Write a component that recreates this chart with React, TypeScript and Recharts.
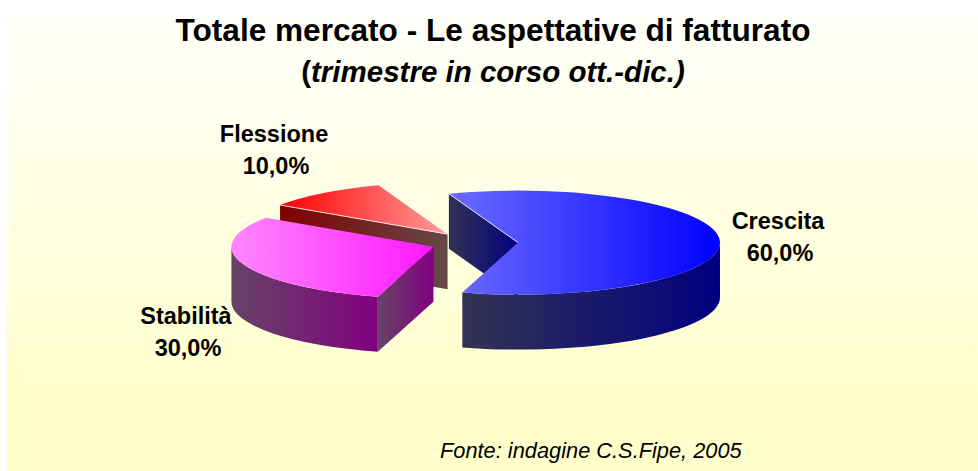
import { PieChart, Pie } from 'recharts'

// slices in drawing order, back to front
const categories = ['Flessione', 'Crescita', 'Stabilità']
const shares = [10, 60, 30]
const data = categories.map((name, i) => ({ name, value: shares[i] }))

// [left, right] colours of each gradient, one row per slice
const topColors = [['#ff0000', '#ff9c9c'], ['#6c6cff', '#0000ff'], ['#ff88ff', '#ff18ff']]
const wallColors = [['#800000', '#664848'], ['#333355', '#000080'], ['#664466', '#800080']]

const RX = 202
const RY = 52
const DEPTH = 55
const EXPLODE = 43.6
const FONT = '"Liberation Sans", Arial, sans-serif'

// label centre per slice
const labelSpots = [
  { x: 274, y: 142 },
  { x: 778, y: 229 },
  { x: 186, y: 324 },
]

const rad = (a: number) => (a * Math.PI) / 180

function Slice3D(props: any) {
  const { cx, cy, startAngle, endAngle, midAngle, index } = props
  const ox = cx + EXPLODE * Math.cos(rad(midAngle))
  const oy = cy - EXPLODE * Math.sin(rad(midAngle)) * (RY / RX)
  const pt = (a: number, drop = 0) =>
    `${ox + RX * Math.cos(rad(a))} ${oy - RY * Math.sin(rad(a)) + drop}`
  const large = Math.abs(startAngle - endAngle) > 180 ? 1 : 0

  const top = `M${ox} ${oy} L${pt(startAngle)} A${RX} ${RY} 0 ${large} 1 ${pt(endAngle)} Z`

  // outer wall only where the rim faces the viewer
  const walls: string[] = []
  for (const k of [-1, 0, 1]) {
    const hi = Math.min(startAngle, 360 * k)
    const lo = Math.max(endAngle, 360 * k - 180)
    if (hi > lo) {
      walls.push(
        `M${pt(hi)} A${RX} ${RY} 0 0 1 ${pt(lo)} L${pt(lo, DEPTH)} A${RX} ${RY} 0 0 0 ${pt(hi, DEPTH)} Z`,
      )
    }
  }

  // the cut at the start angle is the only flat face that shows here
  const showCut = Math.cos(rad(startAngle)) < 0
  const cut = `M${ox} ${oy} L${pt(startAngle)} L${pt(startAngle, DEPTH)} L${ox} ${oy + DEPTH} Z`
  const backEdge = Math.sin(rad(startAngle)) > 0

  return (
    <g>
      <defs>
        <linearGradient id={`top${index}`} x1="0" x2="1" y1="0" y2="0">
          <stop offset="0" stopColor={topColors[index][0]} />
          <stop offset="1" stopColor={topColors[index][1]} />
        </linearGradient>
        <linearGradient id={`wall${index}`} x1="0" x2="1" y1="0" y2="0">
          <stop offset="0" stopColor={wallColors[index][0]} />
          <stop offset="1" stopColor={wallColors[index][1]} />
        </linearGradient>
      </defs>
      {showCut && <path d={cut} fill={`url(#wall${index})`} />}
      {walls.map((d, i) => (
        <path key={i} d={d} fill={`url(#wall${index})`} />
      ))}
      <path d={top} fill={`url(#top${index})`} />
      {showCut && backEdge && (
        <line
          x1={ox}
          y1={oy}
          x2={ox + RX * Math.cos(rad(startAngle))}
          y2={oy - RY * Math.sin(rad(startAngle))}
          stroke="#ffffff"
          strokeOpacity={0.8}
          strokeWidth={1}
        />
      )}
    </g>
  )
}

function SliceLabel(props: any) {
  const { index, name, value } = props
  const spot = labelSpots[index]
  const style = { fontFamily: FONT, fontSize: 23.5, fontWeight: 700, fill: '#000' }
  return (
    <text textAnchor="middle" style={style}>
      <tspan x={spot.x} y={spot.y}>{name}</tspan>
      <tspan x={spot.x + 2} y={spot.y + 32}>{`${value.toFixed(1).replace('.', ',')}%`}</tspan>
    </text>
  )
}

const textBase = {
  position: 'absolute' as const,
  left: 0,
  width: 986,
  textAlign: 'center' as const,
  fontFamily: FONT,
  color: '#000',
  whiteSpace: 'nowrap' as const,
}

export default function App() {
  return (
    <div style={{ position: 'absolute', left: 0, top: 0, width: 978, height: 471, background: '#fff', overflow: 'hidden' }}>
      <div
        style={{
          position: 'absolute',
          left: 7,
          top: 15,
          width: 971,
          height: 456,
          background: 'linear-gradient(180deg, #fffffa 0%, #ffffcc 85%)',
        }}
      />
      <div style={{ ...textBase, top: 10, fontSize: 31.6, fontWeight: 700, lineHeight: '40px' }}>
        Totale mercato - Le aspettative di fatturato
      </div>
      <div style={{ ...textBase, top: 52, fontSize: 29.5, fontWeight: 700, lineHeight: '40px' }}>
        (<i>trimestre in corso ott.-dic.)</i>
      </div>
      <div style={{ position: 'absolute', left: 0, top: 0 }}>
        <PieChart width={978} height={471} margin={{ top: 0, right: 0, bottom: 0, left: 0 }}>
          <Pie
            data={data}
            dataKey="value"
            nameKey="name"
            cx={474.4}
            cy={243}
            outerRadius={RX}
            startAngle={146}
            endAngle={-214}
            stroke="none"
            isAnimationActive={false}
            labelLine={false}
            label={SliceLabel}
            shape={(p: any) => <Slice3D {...p} />}
          />
        </PieChart>
      </div>
      <div
        style={{
          position: 'absolute',
          left: 440,
          top: 437,
          fontFamily: FONT,
          fontSize: 21.8,
          fontStyle: 'italic',
          lineHeight: '28px',
          whiteSpace: 'nowrap',
        }}
      >
        Fonte: indagine C.S.Fipe, 2005
      </div>
    </div>
  )
}
